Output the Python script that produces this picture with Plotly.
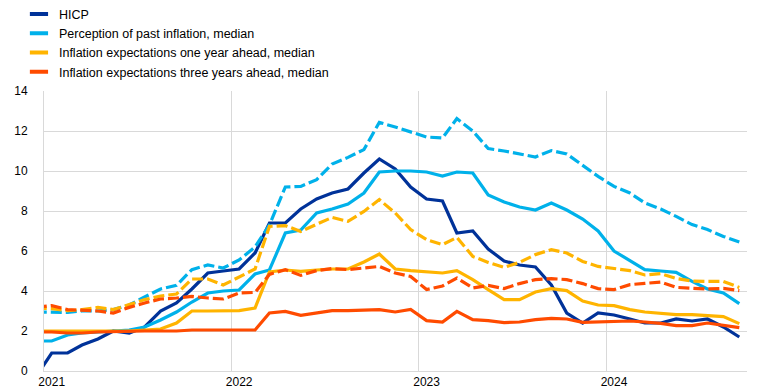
import pandas as pd
import plotly.graph_objects as go

# Months (Dec 2020 - Sep 2024)
months = pd.date_range("2020-12-01", "2024-09-01", freq="MS").strftime("%Y-%m").tolist()

hicp = [-0.3,
        0.9, 0.9, 1.3, 1.6, 2.0, 1.9, 2.2, 3.0, 3.4, 4.1, 4.9, 5.0,
        5.1, 5.9, 7.4, 7.4, 8.1, 8.6, 8.9, 9.1, 9.9, 10.6, 10.1, 9.2,
        8.6, 8.5, 6.9, 7.0, 6.1, 5.5, 5.3, 5.2, 4.3, 2.9, 2.4, 2.9,
        2.8, 2.6, 2.4, 2.4, 2.6, 2.5, 2.6, 2.2, 1.7]

perc_median = [1.5,
               1.5, 1.8, 1.9, 1.95, 2.0, 2.05, 2.2, 2.55, 2.95, 3.45, 3.9, 4.0,
               4.05, 4.85, 5.05, 6.9, 7.05, 7.9, 8.1, 8.35, 8.9, 9.95, 10.0, 10.0,
               9.95, 9.75, 9.95, 9.9, 8.8, 8.45, 8.2, 8.05, 8.4, 8.05, 7.6, 7.0,
               6.0, 5.5, 5.07, 5.0, 4.93, 4.48, 4.1, 3.9, 3.37]

perc_mean = [2.95,
             2.93, 2.93, 3.0, 3.0, 3.07, 3.3, 3.7, 4.1, 4.28, 5.07, 5.3, 5.15,
             5.55, 6.2, 7.3, 9.2, 9.23, 9.57, 10.35, 10.68, 11.07, 12.43, 12.2, 11.95,
             11.7, 11.65, 12.62, 12.0, 11.12, 11.0, 10.85, 10.7, 11.02, 10.85, 10.28, 9.73,
             9.23, 8.9, 8.4, 8.1, 7.73, 7.32, 7.07, 6.73, 6.45]

exp1y_median = [2.0,
                2.0, 2.0, 2.0, 2.0, 2.0, 2.0, 2.05, 2.1, 2.4, 3.0, 3.0, 3.0,
                3.02, 3.15, 4.95, 5.05, 4.98, 5.05, 5.1, 5.1, 5.45, 5.85, 5.1, 5.02,
                4.95, 4.9, 5.02, 4.57, 4.07, 3.57, 3.57, 3.95, 4.12, 4.02, 3.5, 3.3,
                3.27, 3.07, 2.95, 2.9, 2.82, 2.82, 2.78, 2.72, 2.37]

exp1y_mean = [3.15,
              3.12, 3.02, 3.07, 3.18, 3.07, 3.32, 3.57, 3.75, 3.85, 4.6, 4.6, 4.3,
              4.7, 5.1, 7.23, 7.27, 6.98, 7.32, 7.68, 7.48, 7.98, 8.57, 7.9, 7.07,
              6.57, 6.32, 6.68, 5.73, 5.43, 5.18, 5.43, 5.82, 6.07, 5.9, 5.48, 5.23,
              5.12, 5.02, 4.8, 4.87, 4.63, 4.5, 4.48, 4.48, 4.18]

exp3y_median = [1.95,
                1.95, 1.9, 1.9, 1.95, 1.97, 2.0, 2.0, 2.0, 2.0, 2.05, 2.05, 2.05,
                2.05, 2.05, 2.9, 2.98, 2.78, 2.9, 3.02, 3.02, 3.03, 3.07, 2.95, 3.08,
                2.52, 2.45, 2.98, 2.57, 2.52, 2.42, 2.45, 2.57, 2.63, 2.6, 2.43, 2.45,
                2.45, 2.5, 2.45, 2.38, 2.27, 2.27, 2.4, 2.28, 2.17]

exp3y_mean = [3.2,
              3.27, 3.07, 3.02, 3.0, 2.9, 3.18, 3.4, 3.6, 3.65, 3.73, 3.65, 3.6,
              3.9, 3.93, 4.83, 5.07, 4.78, 5.02, 5.12, 5.07, 5.15, 5.23, 4.9, 4.73,
              4.07, 4.25, 4.65, 4.15, 4.28, 4.12, 4.37, 4.57, 4.62, 4.57, 4.37, 4.12,
              4.07, 4.32, 4.38, 4.45, 4.18, 4.12, 4.1, 4.13, 4.02]

year_labels = ["2021", "2022", "2023", "2024"]
y_ticks = [0, 2, 4, 6, 8, 10, 12, 14]

legend_names = ["HICP",
                "Perception of past inflation, median",
                "Inflation expectations one year ahead, median",
                "Inflation expectations three years ahead, median"]

DARK_BLUE = "#003299"
LIGHT_BLUE = "#00b1ea"
YELLOW = "#ffb400"
ORANGE = "#ff4b00"
GRID = "#d9d9d9"
FONT = "Liberation Sans, Arial, sans-serif"

# points at the middle of each month
x = pd.to_datetime(months) + pd.Timedelta(days=15)

fig = go.Figure()

DASH = "11px,4px"
series = [
    (hicp, DARK_BLUE, "solid"),
    (perc_median, LIGHT_BLUE, "solid"),
    (exp1y_median, YELLOW, "solid"),
    (exp3y_median, ORANGE, "solid"),
    (perc_mean, LIGHT_BLUE, DASH),
    (exp1y_mean, YELLOW, DASH),
    (exp3y_mean, ORANGE, DASH),
]
for vals, col, dash in series:
    fig.add_trace(go.Scatter(x=x, y=vals, mode="lines", showlegend=False,
                             line=dict(color=col, width=3.2, dash=dash),
                             hoverinfo="skip"))

# legend entries (short thick bars)
for name, col in zip(legend_names, [DARK_BLUE, LIGHT_BLUE, YELLOW, ORANGE]):
    fig.add_trace(go.Scatter(x=[None], y=[None], mode="markers", name=name,
                             marker=dict(symbol="line-ew", size=13, color=col,
                                         line=dict(color=col, width=4))))

year_starts = [f"{y}-01-01" for y in year_labels]
label_pos = [f"{y}-01-16" for y in year_labels]

fig.update_layout(
    width=767, height=388,
    margin=dict(l=36, r=28, t=83, b=25, autoexpand=False),
    paper_bgcolor="white", plot_bgcolor="white",
    font=dict(family=FONT, size=12, color="#000000"),
    showlegend=True,
    legend=dict(x=-0.0356, y=1.327, xanchor="left", yanchor="top",
                bgcolor="rgba(0,0,0,0)", font=dict(size=12.5),
                itemsizing="trace", tracegroupgap=0),
    xaxis=dict(type="date", range=["2021-01-01", "2024-10-01"],
               tickmode="array", tickvals=label_pos, ticktext=year_labels,
               showgrid=False, ticks="", showline=True, linecolor=GRID,
               linewidth=1, zeroline=False,
               minor=dict(tickmode="array", tickvals=year_starts, showgrid=True,
                          gridcolor=GRID, gridwidth=1, ticks="")),
    yaxis=dict(range=[0, 14], tickmode="array", tickvals=y_ticks,
               showgrid=True, gridcolor=GRID, gridwidth=1, ticks="",
               showline=True, linecolor=GRID, linewidth=1, zeroline=False,
               ticklabelstandoff=13),
)

fig.write_html("out.html")
